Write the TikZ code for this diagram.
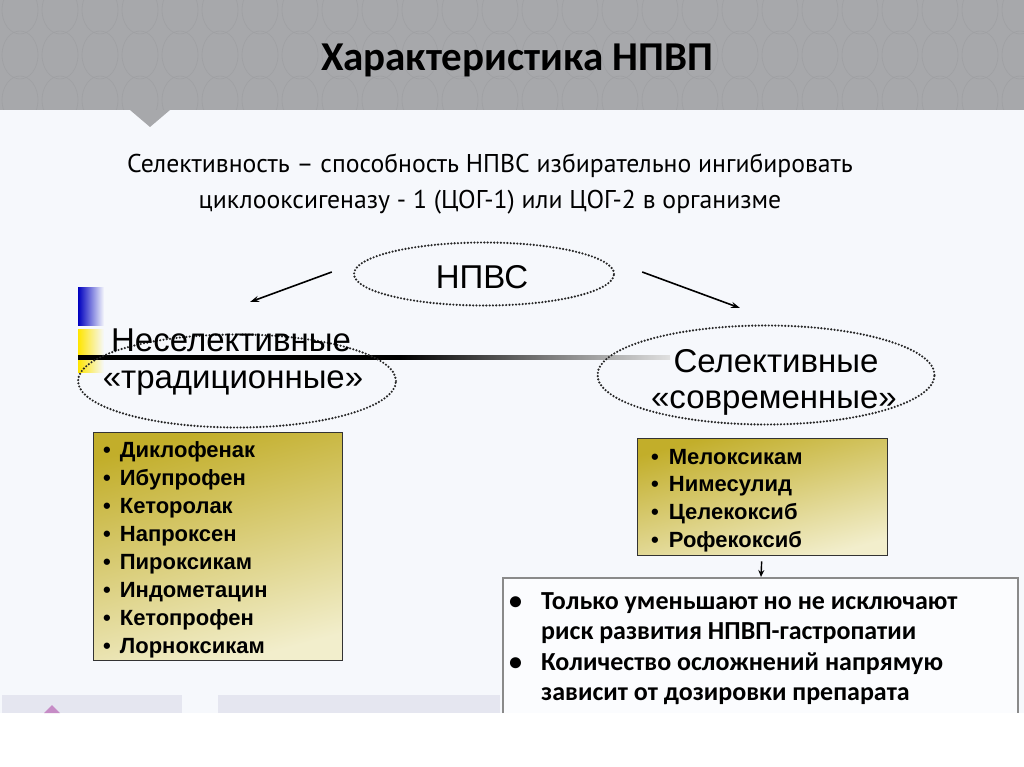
\documentclass[tikz,border=0pt]{standalone}
\usepackage{fontspec}
\setmainfont{Liberation Sans}
\newfontfamily\arialf{Liberation Sans}
\newfontfamily\calibf{Carlito}
\newfontfamily\ptsansf{PT Sans}
\usetikzlibrary{shapes.geometric,arrows.meta}
\definecolor{bandgray}{HTML}{A7A8AB}
\definecolor{bandline}{HTML}{9FA0A3}
\definecolor{pagebg}{HTML}{F6F8FC}
\definecolor{olive}{HTML}{C2AE2A}
\definecolor{olivelight}{HTML}{F2EECC}
\definecolor{lav}{HTML}{E5E6F0}
\definecolor{boxborder}{HTML}{8A8A8A}
\tikzset{
  dotell/.style={ellipse, draw=black!85, line width=2.4pt, dash pattern=on 0pt off 3.3pt, line cap=round},
  arr/.style={-{Stealth[length=9pt,width=6pt]}, line width=1.6pt},
  drugbox/.style={draw=black!80, line width=1.3pt, shading=axis, top color=olive, bottom color=olivelight, shading angle=15},
  druglbl/.style={anchor=base west, font=\arialf\bfseries\fontsize{22}{24}\selectfont, inner sep=0pt},
  bigl/.style={anchor=base, font=\arialf\fontsize{33}{36}\selectfont, inner sep=0pt},
  notel/.style={anchor=base west, font=\calibf\bfseries\fontsize{26}{28}\selectfont, inner sep=0pt}
}
\begin{document}
\begin{tikzpicture}[x=1pt,y=-1pt]
\useasboundingbox (0,0) rectangle (1024,767);
% page background
\fill[pagebg] (0,110) rectangle (1024,713);
\fill[white] (0,713) rectangle (1024,767);
% header band
\fill[bandgray] (0,0) rectangle (1024,110);
\begin{scope}
\clip (0,0) rectangle (1024,110);
\foreach \i in {0,...,26} {
  \foreach \j in {0,1,2} {
    \draw[bandline, line width=0.6pt] (\i*40+20, \j*45+10) ellipse (18pt and 24pt);
  }
}
\end{scope}
\fill[bandgray] (130,110) -- (170,110) -- (150,127) -- cycle;
\node[font=\calibf\bfseries\fontsize{41}{44}\selectfont, inner sep=0pt] (title) at (517,60) {Характеристика НПВП};
% subtitle
\node[font=\ptsansf\fontsize{25.7}{28}\selectfont, inner sep=0pt] (sub1) at (490,166) {Селективность – способность НПВС избирательно ингибировать};
\node[font=\ptsansf\fontsize{25.7}{28}\selectfont, inner sep=0pt] (sub2) at (490,202) {циклооксигеназу - 1 (ЦОГ-1) или ЦОГ-2 в организме};
% decoration left
\shade[left color=blue!75!black, right color=pagebg] (78,287) rectangle (104,325);
\shade[left color=yellow!80!orange, right color=pagebg] (78,329) rectangle (104,372);
\fill[black] (78,355) rectangle (400,359.5);
\shade[left color=black, right color=black!12] (400,355) rectangle (670,359.5);
% ellipses
\node[dotell, minimum width=260pt, minimum height=63pt] (npvs) at (484,274) {};
\node[bigl] (npvstxt) at (482,288) {НПВС};
\node[dotell, minimum width=318pt, minimum height=93pt] (nonsel) at (237,381) {};
\node[bigl] (nonsel1) at (231,351) {Неселективные};
\node[bigl] (nonsel2) at (233,388) {«традиционные»};
\node[dotell, minimum width=337pt, minimum height=99pt] (sel) at (766,375) {};
\node[bigl] (sel1) at (776,372) {Селективные};
\node[bigl] (sel2) at (774,408) {«современные»};
% arrows
\coordinate (la) at (250,302);
\coordinate (ra) at (740,308);
\draw[arr] ([xshift=-21pt,yshift=2pt]npvs.west) -- (la);
\draw[arr] ([xshift=27pt,yshift=2pt]npvs.east) -- (ra);
% left drug box
\node[drugbox, minimum width=249pt, minimum height=228pt, anchor=north west] (lbox) at (93,432) {};
\foreach \t [count=\k from 0] in {Диклофенак,Ибупрофен,Кеторолак,Напроксен,Пироксикам,Индометацин,Кетопрофен,Лорноксикам} {
  \node[druglbl] (l\k) at (103,457+28.1*\k) {•\hspace{9pt}\t};
}
% right drug box
\node[drugbox, minimum width=250pt, minimum height=117pt, anchor=north west] (rbox) at (637,438) {};
\foreach \t [count=\k from 0] in {Мелоксикам,Нимесулид,Целекоксиб,Рофекоксиб} {
  \node[druglbl] (r\k) at (651,464+27.7*\k) {•\hspace{10pt}\t};
}
% note box
\fill[white!60!pagebg] (503,578) rectangle (1018,713);
\draw[boxborder, line width=1.2pt] (503,713) -- (503,578) -- (1018,578) -- (1018,713);
\draw[-{Stealth[length=7pt,width=6pt]}, line width=1.4pt] (rbox.south) ++(-1,5) coordinate (as) (as) -- (761,577) coordinate (ae);
\node[notel] (n1) at (509,609) {•};
\node[notel] (n2) at (541,609) {Только уменьшают но не исключают};
\node[notel] (n3) at (541,639) {риск развития НПВП-гастропатии};
\node[notel] (n4) at (509,670) {•};
\node[notel] (n5) at (541,670) {Количество осложнений напрямую};
\node[notel] (n6) at (541,700) {зависит от дозировки препарата};
% bottom decor
\fill[lav] (2,695) rectangle (182,713);
\fill[lav] (218,695) rectangle (500,713);
\fill[violet!45!white] (44,713) -- (52,705) -- (60,713) -- cycle;
\end{tikzpicture}
\end{document}
